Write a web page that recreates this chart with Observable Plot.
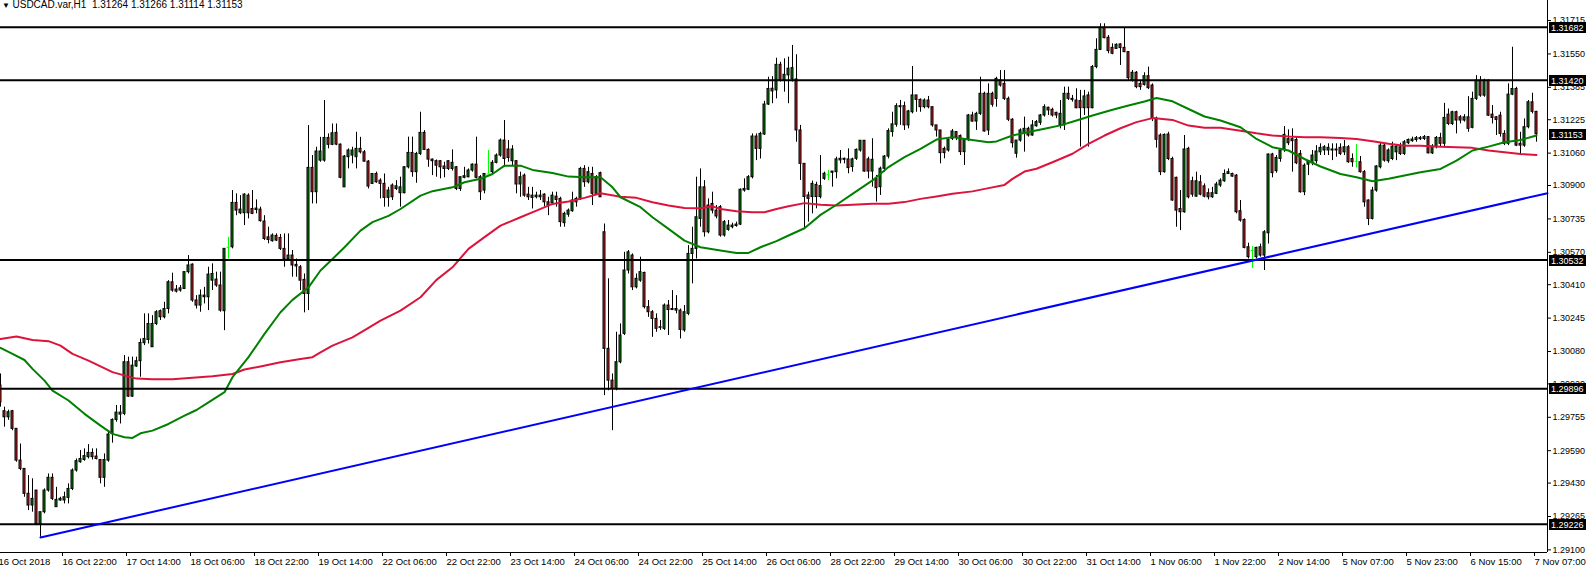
<!DOCTYPE html>
<html><head><meta charset="utf-8">
<script src="https://cdn.jsdelivr.net/npm/d3@7"></script>
<script src="https://cdn.jsdelivr.net/npm/@observablehq/plot@0.6"></script>
<style>html,body{margin:0;padding:0;background:#fff;} svg{display:block}</style>
</head><body><div id="chart"></div>
<script>
// ---- hourly candles (bar index 0..384), prices ----
const opens = [
1.29912,1.29785,1.29755,1.29785,1.29698,1.29541,1.29500,1.29377,1.29319,1.29393,
1.29228,1.29286,1.29393,1.29456,1.29311,1.29344,1.29344,1.29357,1.29401,1.29492,
1.29533,1.29544,1.29558,1.29579,1.29561,1.29544,1.29456,1.29541,1.29673,1.29742,
1.29768,1.29772,1.30027,1.29857,1.30006,1.30032,1.30121,1.30137,1.30101,1.30216,
1.30279,1.30249,1.30290,1.30422,1.30386,1.30381,1.30389,1.30472,1.30509,1.30332,
1.30307,1.30348,1.30348,1.30430,1.30435,1.30406,1.30279,1.30595,1.30595,1.30814,
1.30763,1.30763,1.30850,1.30784,1.30779,1.30781,1.30722,1.30644,1.30625,1.30651,
1.30641,1.30587,1.30537,1.30554,1.30508,1.30496,1.30434,1.30364,1.30987,1.30867,
1.31023,1.31023,1.31135,1.31101,1.31160,1.31102,1.30891,1.31040,1.31048,1.31040,
1.31081,1.31064,1.31018,1.30908,1.30957,1.30924,1.30908,
1.30839,1.30900,1.30883,1.30862,1.30862,1.30990,1.31061,1.30966,1.31056,1.31160,
1.31076,1.31028,1.31020,1.31020,1.30994,1.31020,1.30982,1.30990,1.30883,1.30938,
1.30941,1.30974,1.31003,1.30941,1.30875,1.30957,1.30966,1.31012,1.31048,1.31122,
1.31078,1.31020,1.31020,1.30905,1.30949,1.30855,1.30839,1.30842,1.30850,1.30855,
1.30817,1.30812,1.30845,1.30834,1.30714,1.30756,1.30773,1.30817,1.30834,1.30982,
1.30916,1.30957,1.30859,1.30961,1.30669,1.30093,1.29936,1.29895,1.30027,1.30167,
1.30480,1.30554,1.30397,1.30430,1.30468,1.30299,1.30274,1.30241,1.30200,1.30192,
1.30307,1.30285,1.30290,1.30282,1.30184,1.30266,1.30562,1.30587,1.30735,1.30891,
1.30669,1.30809,1.30776,1.30793,1.30653,1.30681,1.30694,1.30700,1.30707,1.30875,
1.30879,1.30941,1.31142,1.31081,1.31152,1.31300,1.31378,
1.31370,1.31496,1.31419,1.31444,1.31424,1.31424,1.31172,1.31007,1.30851,1.30843,
1.30903,1.30843,1.30933,1.30953,1.30963,1.30966,1.31024,1.31032,1.31029,1.30991,
1.31032,1.31073,1.31121,1.31029,1.30969,1.30933,1.30892,1.30983,1.31043,1.31164,
1.31200,1.31287,1.31292,1.31197,1.31262,1.31345,1.31323,1.31287,1.31320,1.31287,
1.31197,1.31172,1.31081,1.31073,1.31131,1.31164,1.31144,1.31065,1.31126,1.31246,
1.31216,1.31254,1.31353,1.31172,1.31353,1.31328,1.31419,1.31402,1.31328,1.31225,
1.31057,1.31122,1.31155,1.31180,1.31147,1.31193,1.31210,1.31246,1.31284,1.31274,
1.31259,1.31197,1.31197,1.31353,1.31328,1.31320,1.31317,1.31282,1.31345,1.31282,
1.31485,1.31570,1.31679,1.31630,1.31580,1.31575,1.31597,1.31580,1.31559,1.31419,
1.31457,1.31402,1.31397,1.31440,1.31394,1.31230,
1.31147,1.30966,1.31152,1.31031,1.30938,1.30784,1.30768,1.31081,1.30921,1.30845,
1.30916,1.30896,1.30862,1.30842,1.30859,1.30900,1.30921,1.30957,1.30957,1.30949,
1.30773,1.30730,1.30595,1.30579,1.30546,1.30595,1.30554,1.30664,1.31053,1.30971,
1.31031,1.31076,1.31129,1.31129,1.31125,1.31056,1.30867,1.31003,1.31010,1.31020,
1.31064,1.31073,1.31073,1.31078,1.31078,1.31086,1.31064,1.31089,1.31031,1.31020,
1.31015,1.30966,1.30826,1.30735,1.30875,1.30990,1.31097,1.31020,1.31031,1.31064,
1.31089,1.31056,1.31109,1.31119,1.31125,1.31129,1.31130,1.31139,1.31059,1.31089,
1.31135,1.31106,1.31250,1.31204,1.31262,1.31237,1.31221,1.31237,1.31185,1.31328,
1.31418,1.31344,1.31418,1.31250,1.31237,1.31245,1.31155,1.31106,1.31349,1.31377,
1.31106,1.31097,1.31188,1.31311,1.31264];
const highs = [
1.29969,1.29805,1.29790,1.29789,1.29698,1.29623,1.29500,1.29467,1.29451,1.29393,
1.29286,1.29401,1.29475,1.29475,1.29409,1.29360,1.29385,1.29426,1.29500,1.29549,
1.29591,1.29599,1.29620,1.29599,1.29599,1.29544,1.29574,1.29681,1.29747,1.29813,
1.29813,1.30060,1.30052,1.30052,1.30052,1.30142,1.30266,1.30266,1.30257,1.30282,
1.30285,1.30323,1.30430,1.30467,1.30406,1.30406,1.30472,1.30554,1.30513,1.30356,
1.30384,1.30397,1.30496,1.30513,1.30472,1.30472,1.30587,1.30644,1.30875,1.30859,
1.30850,1.30859,1.30859,1.30875,1.30829,1.30793,1.30751,1.30694,1.30661,1.30661,
1.30658,1.30661,1.30661,1.30579,1.30537,1.30505,1.30463,1.31196,1.31048,1.31089,
1.31138,1.31320,1.31155,1.31204,1.31204,1.31105,1.31048,1.31081,1.31089,1.31163,
1.31138,1.31073,1.31023,1.30957,1.30966,1.30933,1.30957,
1.30891,1.30908,1.30924,1.30941,1.30994,1.31139,1.31139,1.31064,1.31262,1.31171,
1.31081,1.31031,1.31026,1.31023,1.31015,1.31023,1.31076,1.30994,1.30941,1.30990,
1.30982,1.31007,1.31139,1.30949,1.30957,1.31073,1.31023,1.31056,1.31130,1.31221,
1.31122,1.31097,1.31023,1.30966,1.30957,1.30891,1.30891,1.30867,1.30875,1.30859,
1.30842,1.30867,1.30867,1.30842,1.30768,1.30784,1.30867,1.30842,1.30990,1.30998,
1.30990,1.30990,1.30949,1.30966,1.30710,1.30439,1.29969,1.30175,1.30216,1.30570,
1.30579,1.30562,1.30463,1.30546,1.30472,1.30332,1.30282,1.30266,1.30233,1.30315,
1.30332,1.30381,1.30356,1.30290,1.30307,1.30603,1.30694,1.30941,1.30982,1.30924,
1.30834,1.30867,1.30801,1.30801,1.30727,1.30727,1.30714,1.30719,1.30883,1.30933,
1.30949,1.31155,1.31155,1.31163,1.31316,1.31435,1.31438,
1.31529,1.31509,1.31526,1.31534,1.31592,1.31546,1.31197,1.31007,1.30867,1.30922,
1.30916,1.31048,1.30966,1.30974,1.30969,1.31040,1.31073,1.31035,1.31081,1.31035,
1.31081,1.31122,1.31122,1.31040,1.31131,1.30950,1.30991,1.31048,1.31180,1.31262,
1.31304,1.31320,1.31312,1.31271,1.31488,1.31345,1.31328,1.31328,1.31340,1.31287,
1.31197,1.31172,1.31090,1.31131,1.31177,1.31167,1.31150,1.31131,1.31251,1.31262,
1.31262,1.31435,1.31361,1.31402,1.31361,1.31435,1.31468,1.31468,1.31337,1.31230,
1.31122,1.31180,1.31238,1.31188,1.31221,1.31221,1.31251,1.31299,1.31287,1.31282,
1.31262,1.31320,1.31386,1.31386,1.31345,1.31378,1.31370,1.31370,1.31361,1.31493,
1.31625,1.31699,1.31699,1.31641,1.31600,1.31600,1.31600,1.31677,1.31562,1.31468,
1.31463,1.31419,1.31457,1.31485,1.31402,1.31238,
1.31155,1.31155,1.31163,1.31040,1.30941,1.30875,1.31147,1.31089,1.30941,1.30966,
1.30949,1.30908,1.30883,1.30891,1.30916,1.30933,1.30977,1.30982,1.30961,1.30954,
1.30826,1.30735,1.30615,1.30598,1.30595,1.30611,1.30677,1.31056,1.31059,1.31048,
1.31073,1.31191,1.31175,1.31180,1.31139,1.31073,1.31007,1.31023,1.31073,1.31097,
1.31106,1.31097,1.31106,1.31106,1.31106,1.31106,1.31122,1.31097,1.31056,1.31102,
1.31043,1.30974,1.30829,1.30891,1.30998,1.31109,1.31106,1.31081,1.31114,1.31097,
1.31109,1.31122,1.31130,1.31139,1.31142,1.31142,1.31147,1.31142,1.31102,1.31142,
1.31158,1.31306,1.31278,1.31267,1.31267,1.31245,1.31250,1.31339,1.31361,1.31443,
1.31438,1.31425,1.31422,1.31295,1.31241,1.31262,1.31171,1.31402,1.31583,1.31385,
1.31163,1.31229,1.31320,1.31356,1.31266];
const lows = [
1.29805,1.29706,1.29740,1.29689,1.29533,1.29492,1.29360,1.29294,1.29286,1.29220,
1.29162,1.29278,1.29385,1.29344,1.29311,1.29340,1.29327,1.29327,1.29393,1.29484,
1.29528,1.29538,1.29549,1.29544,1.29544,1.29426,1.29409,1.29533,1.29627,1.29731,
1.29722,1.29763,1.29854,1.29854,1.30002,1.29953,1.30109,1.30117,1.30101,1.30208,
1.30233,1.30241,1.30266,1.30373,1.30369,1.30373,1.30386,1.30463,1.30323,1.30290,
1.30274,1.30315,1.30282,1.30381,1.30397,1.30274,1.30183,1.30537,1.30587,1.30751,
1.30756,1.30702,1.30735,1.30756,1.30760,1.30719,1.30628,1.30612,1.30620,1.30623,
1.30579,1.30496,1.30529,1.30447,1.30447,1.30381,1.30271,1.30282,1.30809,1.30809,
1.31015,1.31015,1.31081,1.31097,1.31097,1.30933,1.30891,1.30982,1.31007,1.30982,
1.31056,1.31015,1.30883,1.30905,1.30911,1.30834,1.30793,
1.30793,1.30826,1.30875,1.30793,1.30859,1.30982,1.30941,1.30911,1.31048,1.31073,
1.30990,1.30949,1.30941,1.30933,1.30938,1.30974,1.30971,1.30875,1.30871,1.30933,
1.30938,1.30966,1.30933,1.30826,1.30859,1.30957,1.30957,1.31007,1.31040,1.30990,
1.31015,1.30998,1.30859,1.30842,1.30842,1.30826,1.30784,1.30834,1.30826,1.30793,
1.30751,1.30801,1.30793,1.30694,1.30694,1.30743,1.30768,1.30793,1.30826,1.30891,
1.30908,1.30801,1.30859,1.30842,1.29862,1.29886,1.29689,1.29886,1.30019,1.30159,
1.30463,1.30381,1.30389,1.30422,1.30290,1.30249,1.30150,1.30175,1.30184,1.30184,
1.30159,1.30282,1.30266,1.30142,1.30175,1.30257,1.30414,1.30537,1.30694,1.30645,
1.30661,1.30760,1.30735,1.30645,1.30645,1.30674,1.30686,1.30694,1.30702,1.30867,
1.30875,1.30933,1.31023,1.31031,1.31147,1.31295,1.31304,
1.31328,1.31411,1.31361,1.31304,1.31411,1.31114,1.30925,1.30686,1.30719,1.30760,
1.30785,1.30834,1.30925,1.30925,1.30892,1.30933,1.31007,1.31007,1.30958,1.30966,
1.31024,1.31065,1.30966,1.30933,1.30892,1.30818,1.30851,1.30966,1.31032,1.31139,
1.31188,1.31197,1.31172,1.31180,1.31254,1.31262,1.31262,1.31279,1.31279,1.31188,
1.31139,1.31007,1.31032,1.31065,1.31122,1.31122,1.31048,1.30999,1.31118,1.31213,
1.31172,1.31246,1.31164,1.31147,1.31287,1.31287,1.31386,1.31320,1.31216,1.31085,
1.31035,1.31114,1.31065,1.31139,1.31144,1.31188,1.31197,1.31238,1.31246,1.31238,
1.31230,1.31180,1.31172,1.31320,1.31312,1.31279,1.31090,1.31246,1.31090,1.31279,
1.31477,1.31567,1.31625,1.31551,1.31546,1.31572,1.31493,1.31556,1.31419,1.31411,
1.31378,1.31370,1.31391,1.31374,1.31216,1.31085,
1.30949,1.30961,1.31023,1.30822,1.30694,1.30677,1.30763,1.30834,1.30842,1.30842,
1.30849,1.30839,1.30829,1.30837,1.30855,1.30891,1.30916,1.30954,1.30941,1.30760,
1.30719,1.30587,1.30537,1.30491,1.30537,1.30546,1.30480,1.30611,1.30938,1.30961,
1.31015,1.31064,1.31097,1.30966,1.31003,1.30862,1.30850,1.30949,1.30998,1.31007,
1.31048,1.31048,1.31048,1.31023,1.31040,1.31048,1.31048,1.31010,1.30990,1.30987,
1.30961,1.30793,1.30702,1.30730,1.30867,1.30982,1.31015,1.31010,1.31023,1.31023,
1.31048,1.31048,1.31102,1.31114,1.31114,1.31122,1.31122,1.31056,1.31053,1.31081,
1.31092,1.31089,1.31196,1.31196,1.31155,1.31204,1.31213,1.31163,1.31180,1.31320,
1.31336,1.31336,1.31241,1.31204,1.31147,1.31139,1.31097,1.31097,1.31344,1.31092,
1.31048,1.31089,1.31180,1.31254,1.31114];
const closes = [
1.29829,1.29755,1.29780,1.29698,1.29541,1.29500,1.29377,1.29319,1.29352,1.29228,
1.29286,1.29393,1.29456,1.29352,1.29347,1.29352,1.29360,1.29401,1.29492,1.29538,
1.29549,1.29563,1.29579,1.29558,1.29549,1.29456,1.29544,1.29670,1.29742,1.29778,
1.29778,1.30027,1.29857,1.30010,1.30032,1.30122,1.30142,1.30216,1.30216,1.30274,
1.30249,1.30290,1.30422,1.30381,1.30376,1.30392,1.30472,1.30505,1.30332,1.30307,
1.30356,1.30356,1.30460,1.30463,1.30406,1.30282,1.30587,1.30595,1.30814,1.30776,
1.30781,1.30855,1.30763,1.30760,1.30786,1.30724,1.30636,1.30631,1.30653,1.30628,
1.30587,1.30537,1.30554,1.30505,1.30500,1.30430,1.30364,1.30987,1.30867,1.31068,
1.31068,1.31135,1.31101,1.31158,1.31102,1.30938,1.31043,1.31073,1.31073,1.31081,
1.31064,1.31018,1.30895,1.30957,1.30916,1.30908,1.30839,
1.30875,1.30842,1.30896,1.30891,1.30990,1.31061,1.30966,1.31056,1.31160,1.31076,
1.31028,1.31020,1.30998,1.30990,1.30982,1.30982,1.31012,1.30883,1.30941,1.30946,
1.30974,1.31003,1.30938,1.30867,1.30957,1.30957,1.31012,1.31048,1.31122,1.31031,
1.31036,1.31078,1.30905,1.30941,1.30850,1.30842,1.30850,1.30850,1.30842,1.30817,
1.30801,1.30850,1.30829,1.30719,1.30760,1.30776,1.30826,1.30834,1.30982,1.30916,
1.30966,1.30859,1.30941,1.30842,1.30093,1.29936,1.29895,1.30027,1.30159,1.30480,
1.30570,1.30397,1.30439,1.30472,1.30299,1.30274,1.30241,1.30192,1.30197,1.30307,
1.30285,1.30290,1.30282,1.30187,1.30274,1.30562,1.30587,1.30743,1.30891,1.30669,
1.30801,1.30776,1.30747,1.30653,1.30719,1.30702,1.30702,1.30707,1.30879,1.30883,
1.30941,1.31142,1.31081,1.31155,1.31300,1.31377,1.31365,
1.31496,1.31419,1.31447,1.31477,1.31480,1.31172,1.31007,1.30843,1.30834,1.30908,
1.30843,1.30897,1.30958,1.30953,1.30969,1.31029,1.31032,1.31027,1.30986,1.31029,
1.31076,1.31121,1.30969,1.30969,1.31027,1.30887,1.30983,1.31043,1.31169,1.31202,
1.31292,1.31292,1.31197,1.31266,1.31345,1.31323,1.31287,1.31320,1.31287,1.31197,
1.31172,1.31060,1.31060,1.31126,1.31167,1.31139,1.31065,1.31126,1.31246,1.31216,
1.31254,1.31353,1.31167,1.31353,1.31299,1.31427,1.31394,1.31328,1.31225,1.31109,
1.31122,1.31172,1.31180,1.31147,1.31197,1.31213,1.31246,1.31287,1.31271,1.31246,
1.31246,1.31254,1.31353,1.31328,1.31323,1.31282,1.31282,1.31340,1.31282,1.31485,
1.31570,1.31679,1.31628,1.31564,1.31551,1.31595,1.31579,1.31559,1.31430,1.31457,
1.31386,1.31386,1.31440,1.31381,1.31230,1.31126,
1.30966,1.31150,1.31031,1.30826,1.30776,1.30768,1.31078,1.30842,1.30855,1.30921,
1.30855,1.30845,1.30842,1.30862,1.30905,1.30924,1.30957,1.30966,1.30944,1.30768,
1.30727,1.30592,1.30546,1.30579,1.30592,1.30554,1.30669,1.31053,1.30961,1.31036,
1.31073,1.31150,1.31109,1.31119,1.31010,1.30867,1.30998,1.31018,1.31048,1.31068,
1.31086,1.31089,1.31086,1.31073,1.31073,1.31056,1.31089,1.31015,1.31015,1.31020,
1.30966,1.30817,1.30735,1.30875,1.30994,1.31097,1.31023,1.31073,1.31092,1.31092,
1.31056,1.31114,1.31125,1.31127,1.31134,1.31134,1.31139,1.31059,1.31092,1.31135,
1.31106,1.31234,1.31204,1.31262,1.31221,1.31221,1.31237,1.31180,1.31328,1.31418,
1.31344,1.31418,1.31245,1.31234,1.31224,1.31155,1.31106,1.31349,1.31377,1.31097,
1.31097,1.31188,1.31311,1.31264,1.31153];

// ---- moving averages (bar index, price) ----
const fastMaBars = [0,3,6,8,11,13,17,21,25,28,31,33,35,38,42,46,49,52,56,58,62,66,70,73,77,80,83,86,90,93,97,100,105,108,113,116,120,123,126,130,133,138,142,146,150,153,155,160,163,167,171,175,180,184,187,190,194,197,201,205,209,213,218,222,226,230,234,238,242,247,249,253,257,261,265,269,273,278,282,286,289,293,297,301,305,310,314,318,322,326,330,335,339,343,347,351,355,360,364,368,372,376,380,384];
const fastMaValues = [1.30098,1.30068,1.30038,1.29994,1.29936,1.29887,1.29838,1.29772,1.29714,1.29673,1.29656,1.29653,1.29676,1.29689,1.29722,1.29763,1.29791,1.29829,1.29879,1.29953,1.30052,1.30167,1.30274,1.30335,1.30397,1.30480,1.30537,1.30595,1.30677,1.30719,1.30750,1.30784,1.30850,1.30872,1.30891,1.30916,1.30933,1.30957,1.30998,1.30998,1.30977,1.30962,1.30944,1.30941,1.30941,1.30891,1.30842,1.30793,1.30743,1.30686,1.30628,1.30595,1.30579,1.30567,1.30567,1.30595,1.30625,1.30653,1.30689,1.30755,1.30805,1.30859,1.30925,1.30991,1.31040,1.31081,1.31127,1.31139,1.31127,1.31114,1.31118,1.31147,1.31164,1.31180,1.31197,1.31221,1.31246,1.31274,1.31295,1.31315,1.31332,1.31316,1.31278,1.31241,1.31221,1.31188,1.31130,1.31089,1.31073,1.31031,1.30994,1.30957,1.30941,1.30921,1.30933,1.30949,1.30966,1.30982,1.31023,1.31073,1.31092,1.31114,1.31125,1.31147];
const slowMaBars = [0,4,8,12,15,18,22,25,28,32,34,38,43,48,53,58,61,65,70,75,78,80,83,88,92,95,98,100,105,109,113,117,121,125,130,134,138,142,146,150,155,159,163,167,171,175,178,180,184,188,191,194,197,201,205,209,213,218,222,226,230,234,238,243,247,251,253,256,259,263,268,272,276,280,284,288,293,297,301,305,310,314,318,322,326,330,335,339,343,347,351,355,360,364,368,372,376,380,384];
const slowMaValues = [1.30142,1.30154,1.30137,1.30131,1.30109,1.30068,1.30035,1.30006,1.29978,1.29956,1.29946,1.29943,1.29943,1.29950,1.29958,1.29969,1.29991,1.30006,1.30027,1.30043,1.30052,1.30076,1.30109,1.30150,1.30197,1.30233,1.30262,1.30282,1.30348,1.30434,1.30496,1.30587,1.30645,1.30702,1.30743,1.30776,1.30809,1.30821,1.30839,1.30862,1.30845,1.30839,1.30817,1.30801,1.30789,1.30788,1.30797,1.30784,1.30773,1.30768,1.30768,1.30784,1.30798,1.30813,1.30805,1.30801,1.30805,1.30810,1.30810,1.30818,1.30834,1.30846,1.30859,1.30871,1.30887,1.30903,1.30933,1.30969,1.30983,1.31015,1.31057,1.31106,1.31147,1.31183,1.31213,1.31233,1.31224,1.31196,1.31185,1.31185,1.31171,1.31158,1.31147,1.31142,1.31139,1.31139,1.31135,1.31130,1.31119,1.31106,1.31097,1.31097,1.31092,1.31089,1.31086,1.31073,1.31064,1.31056,1.31051];

// ---- trend line and horizontal levels ----
const trendBars = [10, 386.75];
const trendPrices = [1.29161, 1.30862];
const levels = [1.31682, 1.31420, 1.30532, 1.29896, 1.29226];

// ---- axes ----
const priceTicks = [1.31715,1.31550,1.31385,1.31225,1.31060,1.30900,1.30735,1.30570,1.30410,1.30245,1.30080,1.29920,1.29755,1.29590,1.29430,1.29265,1.29100];
const timeTickBars = [-1,15,31,47,63,79,95,111,127,143,159,175,191,207,223,239,255,271,287,303,319,335,351,367,383];
const timeTickLabels = ["16 Oct 2018","16 Oct 22:00","17 Oct 14:00","18 Oct 06:00","18 Oct 22:00","19 Oct 14:00","22 Oct 06:00","22 Oct 22:00","23 Oct 14:00","24 Oct 06:00","24 Oct 22:00","25 Oct 14:00","26 Oct 06:00","28 Oct 22:00","29 Oct 14:00","30 Oct 06:00","30 Oct 22:00","31 Oct 14:00","1 Nov 06:00","1 Nov 22:00","2 Nov 14:00","5 Nov 07:00","5 Nov 23:00","6 Nov 15:00","7 Nov 07:00"];
const symbol = "USDCAD.var,H1";
const xDomain = [0, 386.75];
const yDomain = [1.29087, 1.31814];

// ---- build ----
const n = Math.min(opens.length, highs.length, lows.length, closes.length);
const candles = d3.range(n).map(k => ({k, open: opens[k], high: highs[k], low: lows[k], close: closes[k]}));
const BULL = "#008000", BEAR = "#c81e1e", DOJI = "#00ff00";
const bodies = candles.filter(d => d.open !== d.close);
const dojis = candles.filter(d => d.open === d.close);
const fast = fastMaBars.map((k, i) => ({k, v: fastMaValues[i]}));
const slow = slowMaBars.map((k, i) => ({k, v: slowMaValues[i]}));
const trend = trendBars.map((k, i) => ({k, v: trendPrices[i]}));
const labelMap = new Map(timeTickBars.map((b, i) => [b, timeTickLabels[i]]));
const last = candles[n - 1];
const fmt = v => v.toFixed(5);
const FONT = "'Liberation Sans', Arial, sans-serif";

const plot = Plot.plot({
  width: 1586, height: 569,
  marginLeft: 0, marginRight: 39, marginTop: 0, marginBottom: 17,
  style: {fontFamily: FONT, background: "#fff", color: "#000", overflow: "visible"},
  x: {domain: xDomain, axis: null, label: null},
  y: {domain: yDomain, axis: null, label: null},
  marks: [
    Plot.ruleX(candles, {x: "k", y1: "low", y2: "high", stroke: d => d.open === d.close ? DOJI : "#000", strokeWidth: 1}),
    Plot.rectY(bodies, {x1: d => d.k - 0.25, x2: d => d.k + 0.25, y1: "open", y2: "close",
      fill: d => d.close > d.open ? BULL : BEAR, stroke: "#000", strokeWidth: 1}),
    Plot.ruleY(dojis, {y: "open", x1: d => d.k - 0.375, x2: d => d.k + 0.375, stroke: DOJI, strokeWidth: 1}),
    Plot.line(slow, {x: "k", y: "v", stroke: "#dc143c", strokeWidth: 2}),
    Plot.line(fast, {x: "k", y: "v", stroke: "#008000", strokeWidth: 2}),
    Plot.ruleY(levels, {stroke: "#000", strokeWidth: 2}),
    Plot.line(trend, {x: "k", y: "v", stroke: "#0000ff", strokeWidth: 2}),
    Plot.ruleX([xDomain[1]], {stroke: "#000", strokeWidth: 1}),
    Plot.ruleY([yDomain[0]], {stroke: "#000", strokeWidth: 1}),
    Plot.axisY(priceTicks, {anchor: "right", tickSize: 3, tickPadding: 2, tickFormat: fmt, fontSize: 9, label: null}),
    Plot.axisX(timeTickBars, {anchor: "bottom", tickSize: 4, tickPadding: 2, tickFormat: d => labelMap.get(d),
      textAnchor: "start", dx: 2, fontSize: 9.5, label: null}),
    Plot.text([`${symbol}\u00a0 ${fmt(last.open)} ${fmt(last.high)} ${fmt(last.low)} ${fmt(last.close)}`],
      {frameAnchor: "top-left", dx: 12, dy: 0.5, lineAnchor: "top", textAnchor: "start", fontSize: 10}),
    Plot.text(["\u25BC"], {frameAnchor: "top-left", dx: 1.5, dy: 1.5, lineAnchor: "top", textAnchor: "start", fontSize: 8})
  ]
});

// price tags on the right axis (horizontal levels + last close), positioned with Plot's y scale
const ys = plot.scale("y");
const g = d3.select(plot).append("g").attr("font-family", FONT).attr("font-size", 9).attr("text-anchor", "start");
for (const v of [...levels, last.close]) {
  const y = Math.round(ys.apply(v));
  g.append("rect").attr("x", 1549).attr("y", y - 5).attr("width", 37).attr("height", 11).attr("fill", "#000");
  g.append("text").attr("x", 1551).attr("y", y + 0.5).attr("dy", "0.35em").attr("text-anchor", "start").attr("fill", "#fff").text(fmt(v));
}
document.getElementById("chart").appendChild(plot);
</script>
</body></html>
